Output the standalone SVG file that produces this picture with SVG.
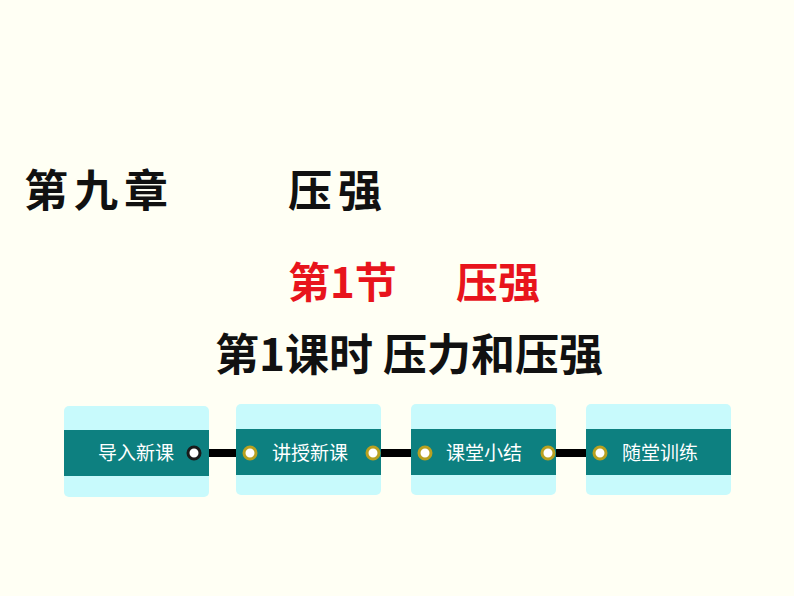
<svg xmlns="http://www.w3.org/2000/svg" width="794" height="596" viewBox="0 0 794 596">
<style>
.box{fill:#c8fafc}
.band{fill:#0d8080}
.bt{font-family:"Noto Sans CJK SC",sans-serif;font-size:19px;fill:#ffffff;text-anchor:middle}
.ring{fill:#ffffff;stroke:#1a1a1a;stroke-width:3}
.ring2{fill:#ffffff;stroke:#b8a020;stroke-width:3}
.bar{stroke:#000;stroke-width:8;stroke-linecap:round}
</style>
<rect width="794" height="596" fill="#fffff4"/>
<text x="24" y="207" font-family="'Noto Sans CJK SC',serif" font-size="44" font-weight="bold" letter-spacing="6" fill="#111">第九章</text>
<text x="288" y="207" font-family="'Noto Sans CJK SC',serif" font-size="44" font-weight="bold" letter-spacing="6" fill="#111">压强</text>
<text x="288" y="298" font-family="'Noto Sans CJK SC',sans-serif" font-size="42" font-weight="bold" fill="#e8141c">第1节</text>
<text x="456" y="298" font-family="'Noto Sans CJK SC',sans-serif" font-size="42" font-weight="bold" fill="#e8141c">压强</text>
<text x="409" y="371" text-anchor="middle" font-family="'Noto Sans CJK SC',sans-serif" font-size="44" font-weight="bold" fill="#111">第1课时 压力和压强</text>
<g id="connectors">
<line class="bar" x1="196" y1="453" x2="248" y2="453"/>
<line class="bar" x1="373" y1="453" x2="423" y2="453"/>
<line class="bar" x1="548" y1="453" x2="598" y2="453"/>
</g>
<g id="n1"><rect class="box" x="64" y="406" width="145" height="91" rx="5"/><rect class="band" x="64" y="430" width="145" height="46"/><text class="bt" x="136" y="460">导入新课</text></g>
<g id="n2"><rect class="box" x="236" y="404" width="145" height="91" rx="5"/><rect class="band" x="236" y="429" width="145" height="46"/><text class="bt" x="310" y="460">讲授新课</text></g>
<g id="n3"><rect class="box" x="411" y="404" width="145" height="91" rx="5"/><rect class="band" x="411" y="429" width="145" height="46"/><text class="bt" x="484" y="460">课堂小结</text></g>
<g id="n4"><rect class="box" x="586" y="404" width="145" height="91" rx="5"/><rect class="band" x="586" y="429" width="145" height="46"/><text class="bt" x="660" y="460">随堂训练</text></g>
<g id="rings">
<circle class="ring" cx="194" cy="453" r="6"/>
<circle class="ring2" cx="250" cy="453" r="6"/>
<circle class="ring2" cx="373" cy="453" r="6"/>
<circle class="ring2" cx="425" cy="453" r="6"/>
<circle class="ring2" cx="548" cy="453" r="6"/>
<circle class="ring2" cx="600" cy="453" r="6"/>
</g>
</svg>
